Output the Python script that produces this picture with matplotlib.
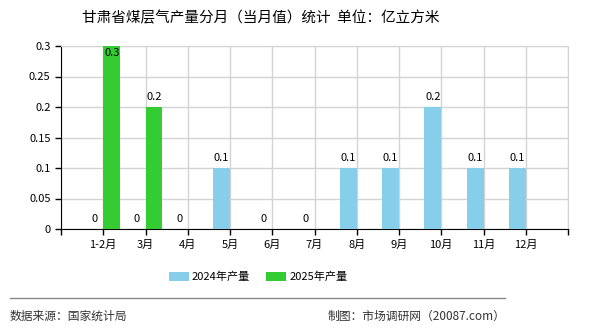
import matplotlib.pyplot as plt
import numpy as np

plt.rcParams['font.family'] = ['Noto Sans CJK SC', 'DejaVu Sans']

# data
months = ['1-2月', '3月', '4月', '5月', '6月', '7月', '8月', '9月', '10月', '11月', '12月']
y2024 = [0, 0, 0, 0.1, 0, 0, 0.1, 0.1, 0.2, 0.1, 0.1]
y2025 = [0.3, 0.2]
yticks = [0, 0.05, 0.1, 0.15, 0.2, 0.25, 0.3]
ytick_labels = ['0', '0.05', '0.1', '0.15', '0.2', '0.25', '0.3']

c2024 = '#87ceeb'
c2025 = '#33cc33'

fig = plt.figure(figsize=(5.9, 3.3), dpi=100)
ax = fig.add_axes([61/590, 1 - 229/330, 507/590, 183/330])

x = np.arange(1, len(months) + 1)
w = 0.4
ax.bar(x - w/2, y2024, width=w, color=c2024, label='2024年产量', zorder=3)
x25 = x[:len(y2025)]
ax.bar(x25 + w/2, y2025, width=w, color=c2025, label='2025年产量', zorder=3)

# value labels
for xi, v in zip(x, y2024):
    ax.text(xi - w/2, v + 0.008, f'{v:g}', ha='center', va='bottom', fontsize=8, zorder=4)
for xi, v in zip(x25, y2025):
    if v >= 0.3:
        ax.text(xi + w/2, v - 0.003, f'{v:g}', ha='center', va='top', fontsize=8, zorder=4)
    else:
        ax.text(xi + w/2, v + 0.008, f'{v:g}', ha='center', va='bottom', fontsize=8, zorder=4)

ax.set_xlim(0, 12)
ax.set_ylim(0, 0.3)
ax.set_xticks(np.arange(0, 13))
ax.set_xticklabels([''] + months + [''], fontsize=8)
ax.set_yticks(yticks)
ax.set_yticklabels(ytick_labels, fontsize=8)
ax.tick_params(axis='both', direction='out', length=4, width=1, color='black')
ax.grid(True, color='#d3d3d3', linewidth=1, zorder=0)
ax.spines['left'].set_color('black')
ax.spines['bottom'].set_color('black')
ax.spines['top'].set_color('#d3d3d3')
ax.spines['right'].set_color('#d3d3d3')

fig.text(261/590, 1 - 18/330, '甘肃省煤层气产量分月（当月值）统计  单位：亿立方米',
         ha='center', va='center', fontsize=10.5)

fig.legend(loc='center', bbox_to_anchor=(258/590, 1 - 277/330), ncol=2, frameon=False,
           fontsize=8, handlelength=1.8, handleheight=0.8, handletextpad=0.3,
           columnspacing=1.4)

fig.add_artist(plt.Line2D([10/590, 505/590], [1 - 298/330, 1 - 298/330],
                          color='#888888', linewidth=1, transform=fig.transFigure))
fig.text(10/590, 1 - 316/330, '数据来源：国家统计局', ha='left', va='center', fontsize=8.5, color='#333333')
fig.text(505/590, 1 - 316/330, '制图：市场调研网（20087.com）', ha='right', va='center', fontsize=8.5, color='#333333')

plt.savefig('out.png', dpi=100)
